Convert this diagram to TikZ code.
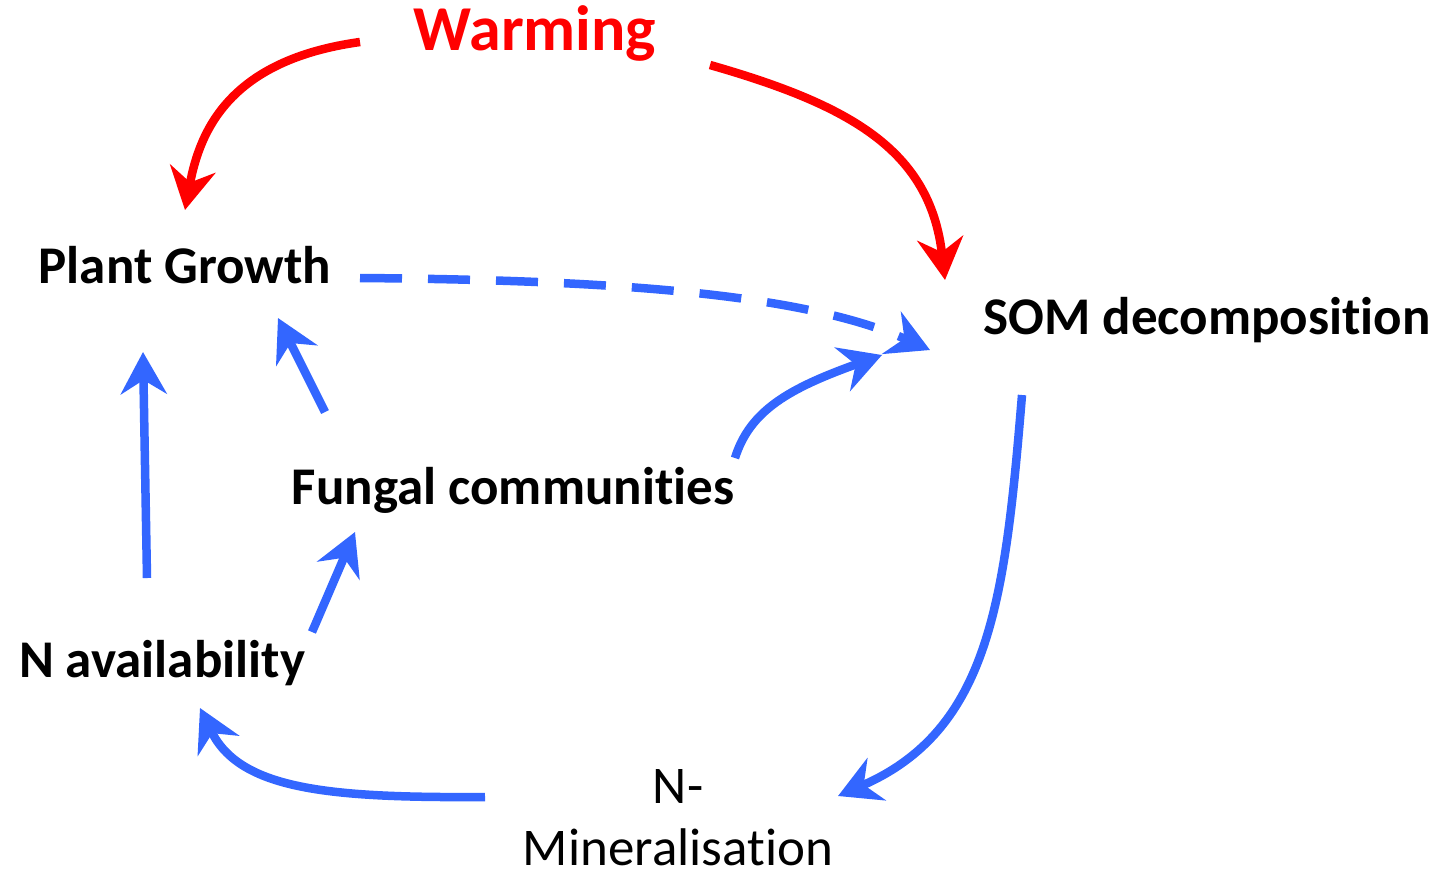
\documentclass[tikz,border=0pt]{standalone}
\usepackage{fontspec}
\setmainfont[Ligatures=NoCommon]{Carlito}
\usetikzlibrary{arrows.meta}
\definecolor{warmred}{RGB}{255,0,0}
\definecolor{fluxblue}{RGB}{51,102,255}
\tikzset{
  lbl/.style={inner sep=0pt, font=\bfseries\fontsize{53}{60}\selectfont},
  redarr/.style={draw=warmred, line width=8.5pt, -{Stealth[length=42pt,width=46pt,inset=14pt]}},
  bluearr/.style={draw=fluxblue, line width=8.5pt, -{Stealth[length=42pt,width=46pt,inset=14pt]}}
}
\begin{document}
\begin{tikzpicture}[x=1pt,y=-1pt]
    \useasboundingbox (0,0) rectangle (1442,876);
    % nodes
    \node[lbl, text=warmred, font=\bfseries\fontsize{64}{70}\selectfont] (warm) at (535,33) {Warming};
    \node[lbl] (plant) at (185,265) {Plant Growth};
    \node[lbl] (som) at (1207,320) {SOM decomposition};
    \node[lbl] (fungi) at (513,490) {Fungal communities};
    \node[lbl] (navail) at (162,663) {N availability};
    \node[inner sep=0pt, align=center, font=\fontsize{53}{62}\selectfont] (nmin) at (678,818) {N-\\Mineralisation};
    % warming effects
    \draw[redarr] ([shift={(-175,9)}]warm.center) .. controls (230,60) and (200,130) .. ([shift={(0,-55)}]plant.center);
    \draw[redarr] ([shift={(175,32)}]warm.center) .. controls (850,105) and (930,150) .. ([shift={(-262,-40)}]som.center);
    % plant and fungal links
    \draw[bluearr, dash pattern=on 42pt off 26pt] ([shift={(175,13)}]plant.center) .. controls (600,280) and (800,292) .. ([shift={(-277,30)}]som.center);
    \draw[bluearr] ([shift={(222,-32)}]fungi.center) .. controls (750,410) and (790,388) .. ([shift={(-325,35)}]som.center);
    \draw[bluearr] ([shift={(-188,-78)}]fungi.center) -- ([shift={(93,53)}]plant.center);
    \draw[bluearr] ([shift={(-15,-85)}]navail.center) -- ([shift={(-42,87)}]plant.center);
    \draw[bluearr] ([shift={(150,-31)}]navail.center) -- ([shift={(-158,42)}]fungi.center);
    % nitrogen cycle
    \draw[bluearr] ([shift={(-185,75)}]som.center) .. controls (1005,600) and (990,730) .. ([shift={(160,-22)}]nmin.center);
    \draw[bluearr] ([shift={(-193,-21)}]nmin.center) .. controls (330,798) and (240,790) .. ([shift={(38,45)}]navail.center);
\end{tikzpicture}
\end{document}
